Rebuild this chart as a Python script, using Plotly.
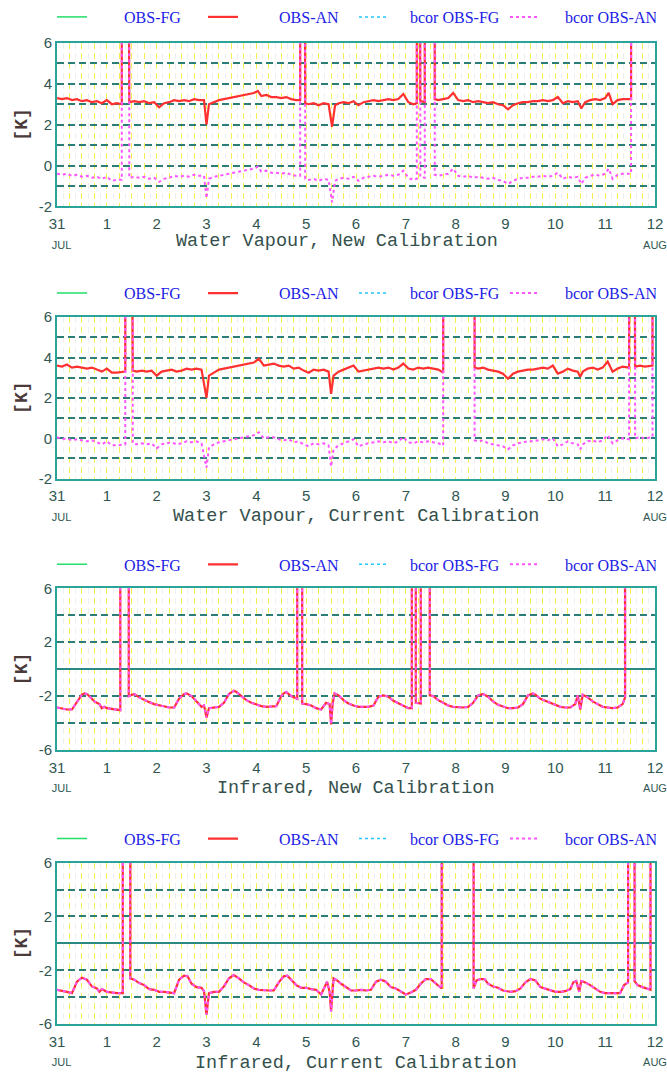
import plotly.graph_objects as go

W, H = 667, 1074
GAP = 99.0  # missing-data flag: the trace jumps off the top of the frame

# ---------------- labels ----------------
series_names = ["OBS-FG", "OBS-AN", "bcor OBS-FG", "bcor OBS-AN"]
panel_titles = ["Water Vapour, New Calibration",
                "Water Vapour, Current Calibration",
                "Infrared, New Calibration",
                "Infrared, Current Calibration"]
day_ticks = list(range(13))
day_labels = ["31<br><span style='font-size:11px'>\u00a0\u00a0\u00a0JUL</span>",
              "1", "2", "3", "4", "5", "6", "7", "8", "9", "10", "11",
              "12<br><span style='font-size:11px'>AUG</span>"]
wv_yticks = [-2, -1, 0, 1, 2, 3, 4, 5, 6]
wv_ylabels = ["-2", "", "0", "", "2", "", "4", "", "6"]
ir_yticks = [-6, -4, -2, 0, 2, 4, 6]
ir_ylabels = ["-6", "", "-2", "", "2", "", "6"]

# ---------------- Water Vapour, New Calibration ----------------
t_wv_new = [0.00, 0.10, 0.20, 0.30, 0.40, 0.50, 0.60, 0.70, 0.80, 0.90,
            1.00, 1.10, 1.20, 1.30, 1.30, 1.45, 1.45, 1.55, 1.65, 1.75,
            1.85, 1.95, 2.05, 2.15, 2.25, 2.35, 2.45, 2.55, 2.65, 2.75,
            2.85, 2.95, 3.00, 3.05, 3.15, 3.25, 3.35, 3.45, 3.55, 3.65,
            3.75, 3.85, 3.95, 4.03, 4.10, 4.20, 4.30, 4.40, 4.50, 4.60,
            4.70, 4.80, 4.88, 4.88, 4.98, 4.98, 5.05, 5.15, 5.25, 5.35,
            5.45, 5.52, 5.58, 5.65, 5.75, 5.85, 5.95, 6.05, 6.15, 6.25,
            6.35, 6.45, 6.55, 6.65, 6.75, 6.85, 6.95, 7.05, 7.15, 7.22,
            7.22, 7.29, 7.29, 7.38, 7.38, 7.58, 7.58, 7.65, 7.75, 7.85,
            7.95, 8.05, 8.15, 8.25, 8.35, 8.45, 8.55, 8.65, 8.75, 8.85,
            8.95, 9.05, 9.15, 9.25, 9.35, 9.45, 9.55, 9.65, 9.75, 9.85,
            9.95, 10.05, 10.15, 10.25, 10.35, 10.45, 10.52, 10.60, 10.70, 10.80,
            10.90, 11.00, 11.07, 11.15, 11.25, 11.35, 11.45, 11.52, 11.52, 12.00]
an_wv_new = [3.30, 3.25, 3.30, 3.20, 3.25, 3.15, 3.20, 3.10, 3.15, 3.05,
             3.20, 3.00, 3.05, 3.00, GAP, GAP, 3.10, 3.15, 3.10, 3.15,
             3.05, 3.10, 2.85, 3.05, 3.10, 3.20, 3.15, 3.20, 3.15, 3.25,
             3.20, 3.20, 2.00, 3.00, 3.10, 3.20, 3.25, 3.30, 3.35, 3.40,
             3.45, 3.50, 3.55, 3.65, 3.40, 3.45, 3.35, 3.35, 3.30, 3.35,
             3.25, 3.20, 3.20, GAP, GAP, 3.05, 3.00, 3.05, 2.95, 3.05,
             3.00, 1.90, 2.95, 3.05, 3.10, 3.05, 3.15, 2.95, 3.10, 3.15,
             3.20, 3.15, 3.20, 3.25, 3.20, 3.25, 3.50, 3.10, 3.00, 3.05,
             GAP, GAP, 3.15, 3.10, GAP, GAP, 3.25, 3.20, 3.25, 3.30,
             3.55, 3.20, 3.15, 3.20, 3.10, 3.15, 3.10, 3.05, 3.10, 3.00,
             2.95, 2.75, 2.95, 3.05, 3.10, 3.10, 3.15, 3.15, 3.20, 3.15,
             3.20, 3.35, 3.05, 3.15, 3.10, 3.15, 2.80, 3.10, 3.20, 3.25,
             3.20, 3.30, 3.55, 3.00, 3.20, 3.25, 3.25, 3.25, GAP, GAP]
bc_wv_new = [-0.40, -0.45, -0.40, -0.50, -0.45, -0.55, -0.50, -0.60, -0.55, -0.65,
             -0.55, -0.75, -0.70, -0.70, GAP, GAP, -0.60, -0.55, -0.60, -0.55,
             -0.65, -0.60, -0.80, -0.65, -0.60, -0.50, -0.55, -0.50, -0.55, -0.45,
             -0.50, -0.50, -1.60, -0.65, -0.55, -0.50, -0.45, -0.40, -0.35, -0.30,
             -0.25, -0.20, -0.15, -0.05, -0.30, -0.25, -0.35, -0.35, -0.40, -0.35,
             -0.45, -0.50, -0.50, GAP, GAP, -0.65, -0.70, -0.65, -0.75, -0.65,
             -0.70, -1.80, -0.75, -0.65, -0.60, -0.65, -0.55, -0.75, -0.60, -0.55,
             -0.50, -0.55, -0.50, -0.45, -0.50, -0.45, -0.25, -0.60, -0.70, -0.65,
             GAP, GAP, -0.55, -0.60, GAP, GAP, -0.45, -0.50, -0.45, -0.40,
             -0.15, -0.50, -0.55, -0.50, -0.60, -0.55, -0.60, -0.65, -0.60, -0.70,
             -0.75, -0.90, -0.75, -0.65, -0.60, -0.60, -0.55, -0.55, -0.50, -0.55,
             -0.50, -0.35, -0.65, -0.55, -0.60, -0.55, -0.90, -0.60, -0.50, -0.45,
             -0.50, -0.40, -0.15, -0.65, -0.45, -0.40, -0.40, -0.40, GAP, GAP]

# ---------------- Water Vapour, Current Calibration ----------------
t_wv_cur = [0.00, 0.10, 0.20, 0.30, 0.40, 0.50, 0.60, 0.70, 0.80, 0.90,
            1.00, 1.10, 1.20, 1.37, 1.37, 1.52, 1.52, 1.60, 1.70, 1.80,
            1.90, 2.00, 2.10, 2.20, 2.30, 2.40, 2.50, 2.60, 2.70, 2.80,
            2.90, 3.00, 3.05, 3.15, 3.25, 3.35, 3.45, 3.55, 3.65, 3.75,
            3.85, 3.95, 4.05, 4.15, 4.25, 4.35, 4.45, 4.55, 4.65, 4.75,
            4.85, 4.95, 5.05, 5.15, 5.25, 5.35, 5.45, 5.50, 5.55, 5.65,
            5.75, 5.85, 5.95, 6.05, 6.15, 6.25, 6.35, 6.45, 6.55, 6.65,
            6.75, 6.85, 6.95, 7.05, 7.15, 7.25, 7.35, 7.45, 7.55, 7.65,
            7.75, 7.75, 8.38, 8.38, 8.45, 8.55, 8.65, 8.75, 8.85, 8.95,
            9.05, 9.15, 9.25, 9.35, 9.45, 9.55, 9.65, 9.75, 9.85, 9.95,
            10.05, 10.15, 10.25, 10.35, 10.45, 10.50, 10.55, 10.65, 10.75, 10.85,
            10.95, 11.05, 11.15, 11.25, 11.35, 11.48, 11.48, 11.60, 11.60, 11.70,
            11.80, 11.95, 11.95, 12.00]
an_wv_cur = [3.60, 3.55, 3.65, 3.50, 3.55, 3.50, 3.45, 3.50, 3.40, 3.30,
             3.45, 3.25, 3.25, 3.30, GAP, GAP, 3.35, 3.30, 3.35, 3.30,
             3.35, 3.10, 3.30, 3.35, 3.40, 3.30, 3.35, 3.45, 3.40, 3.45,
             3.40, 2.00, 3.10, 3.25, 3.40, 3.45, 3.50, 3.55, 3.60, 3.65,
             3.70, 3.75, 3.95, 3.60, 3.65, 3.70, 3.60, 3.55, 3.60, 3.45,
             3.50, 3.35, 3.25, 3.40, 3.35, 3.40, 3.30, 2.20, 3.10, 3.30,
             3.40, 3.50, 3.60, 3.30, 3.35, 3.40, 3.45, 3.50, 3.45, 3.50,
             3.40, 3.50, 3.70, 3.45, 3.40, 3.50, 3.45, 3.50, 3.45, 3.40,
             3.25, GAP, GAP, 3.50, 3.45, 3.50, 3.40, 3.35, 3.30, 3.20,
             2.95, 3.20, 3.30, 3.35, 3.40, 3.40, 3.45, 3.50, 3.45, 3.60,
             3.20, 3.30, 3.45, 3.35, 3.30, 3.05, 3.30, 3.45, 3.50, 3.40,
             3.50, 3.80, 3.30, 3.45, 3.55, 3.50, GAP, GAP, 3.55, 3.60,
             3.55, 3.60, GAP, GAP]
bc_wv_cur = [0.05, -0.05, 0.00, -0.10, -0.05, -0.10, -0.15, -0.10, -0.20, -0.30,
             -0.15, -0.35, -0.35, -0.30, GAP, GAP, -0.25, -0.30, -0.25, -0.30,
             -0.25, -0.50, -0.30, -0.25, -0.20, -0.30, -0.25, -0.15, -0.20, -0.15,
             -0.25, -1.45, -0.45, -0.30, -0.20, -0.15, -0.10, -0.05, 0.00, 0.05,
             0.10, 0.15, 0.30, 0.00, 0.05, 0.05, -0.05, -0.10, -0.05, -0.20,
             -0.15, -0.30, -0.40, -0.25, -0.30, -0.25, -0.35, -1.40, -0.55, -0.35,
             -0.25, -0.15, -0.05, -0.40, -0.30, -0.25, -0.20, -0.15, -0.20, -0.15,
             -0.25, -0.15, 0.05, -0.20, -0.25, -0.15, -0.20, -0.15, -0.20, -0.25,
             -0.35, GAP, GAP, -0.10, -0.15, -0.10, -0.25, -0.30, -0.35, -0.40,
             -0.55, -0.35, -0.25, -0.20, -0.15, -0.15, -0.10, -0.05, -0.10, 0.00,
             -0.40, -0.30, -0.15, -0.25, -0.30, -0.55, -0.30, -0.15, -0.10, -0.20,
             -0.10, 0.15, -0.25, -0.10, 0.00, -0.05, GAP, GAP, 0.00, 0.05,
             0.00, 0.05, GAP, GAP]

# ---------------- Infrared, New Calibration ----------------
t_ir_new = [0.00, 0.10, 0.20, 0.30, 0.40, 0.50, 0.55, 0.60, 0.70, 0.75,
            0.80, 0.85, 0.90, 0.95, 1.00, 1.10, 1.20, 1.27, 1.27, 1.44,
            1.44, 1.50, 1.55, 1.65, 1.75, 1.85, 1.95, 2.05, 2.15, 2.25,
            2.35, 2.45, 2.55, 2.60, 2.70, 2.80, 2.90, 2.95, 3.00, 3.05,
            3.15, 3.25, 3.35, 3.45, 3.55, 3.60, 3.70, 3.80, 3.90, 4.00,
            4.10, 4.20, 4.30, 4.40, 4.50, 4.55, 4.60, 4.70, 4.82, 4.82,
            4.92, 4.92, 5.00, 5.10, 5.20, 5.30, 5.40, 5.47, 5.50, 5.53,
            5.57, 5.65, 5.75, 5.85, 5.95, 6.05, 6.15, 6.25, 6.35, 6.45,
            6.55, 6.65, 6.75, 6.85, 6.95, 7.05, 7.12, 7.12, 7.20, 7.20,
            7.30, 7.30, 7.48, 7.48, 7.55, 7.65, 7.75, 7.85, 7.95, 8.05,
            8.15, 8.25, 8.35, 8.45, 8.55, 8.65, 8.75, 8.85, 8.95, 9.05,
            9.15, 9.25, 9.35, 9.45, 9.55, 9.60, 9.70, 9.80, 9.90, 10.00,
            10.10, 10.20, 10.30, 10.40, 10.45, 10.50, 10.55, 10.65, 10.75, 10.85,
            10.95, 11.05, 11.15, 11.25, 11.35, 11.40, 11.40, 12.00]
an_ir_new = [-2.85, -2.95, -3.00, -3.00, -2.40, -1.90, -1.80, -1.85, -2.20, -2.40,
             -2.50, -2.60, -2.90, -2.80, -2.90, -2.95, -3.00, -3.05, GAP, GAP,
             -2.00, -1.90, -1.85, -2.10, -2.30, -2.45, -2.60, -2.70, -2.80, -2.85,
             -2.85, -2.20, -1.85, -1.80, -2.00, -2.40, -2.80, -2.70, -3.60, -2.90,
             -2.85, -2.80, -2.50, -1.85, -1.60, -1.70, -2.00, -2.30, -2.50, -2.65,
             -2.75, -2.80, -2.80, -2.75, -2.00, -1.80, -1.70, -2.00, -2.20, GAP,
             GAP, -2.55, -2.60, -2.70, -2.90, -3.00, -2.50, -2.60, -4.10, -2.60,
             -1.80, -1.95, -2.30, -2.55, -2.70, -2.80, -2.80, -2.80, -2.70, -2.05,
             -1.95, -2.05, -2.35, -2.55, -2.75, -2.90, -2.90, GAP, GAP, -2.50,
             -2.55, GAP, GAP, -1.95, -2.00, -2.30, -2.50, -2.70, -2.80, -2.85,
             -2.85, -2.80, -2.50, -1.95, -1.85, -2.05, -2.40, -2.65, -2.80, -2.90,
             -2.90, -2.85, -2.60, -1.95, -1.80, -1.90, -2.20, -2.35, -2.55, -2.65,
             -2.80, -2.85, -2.85, -2.60, -1.95, -3.00, -1.90, -2.10, -2.40, -2.60,
             -2.80, -2.85, -2.90, -2.85, -2.60, -2.10, GAP, GAP]
# in the infrared the bias-corrected curve lies on top of OBS-AN
bc_ir_new = list(an_ir_new)

# ---------------- Infrared, Current Calibration ----------------
t_ir_cur = [0.00, 0.10, 0.20, 0.30, 0.40, 0.50, 0.60, 0.70, 0.80, 0.85,
            0.90, 1.00, 1.10, 1.20, 1.32, 1.32, 1.47, 1.47, 1.55, 1.65,
            1.75, 1.85, 1.95, 2.05, 2.15, 2.25, 2.35, 2.45, 2.55, 2.62,
            2.70, 2.80, 2.90, 2.95, 3.00, 3.05, 3.15, 3.25, 3.35, 3.45,
            3.55, 3.65, 3.75, 3.85, 3.95, 4.05, 4.15, 4.25, 4.35, 4.45,
            4.55, 4.62, 4.70, 4.80, 4.90, 5.00, 5.10, 5.20, 5.30, 5.35,
            5.42, 5.47, 5.50, 5.55, 5.62, 5.70, 5.80, 5.90, 6.00, 6.10,
            6.20, 6.30, 6.40, 6.50, 6.60, 6.70, 6.80, 6.90, 7.00, 7.10,
            7.20, 7.30, 7.40, 7.50, 7.60, 7.72, 7.72, 8.36, 8.36, 8.42,
            8.50, 8.58, 8.65, 8.75, 8.85, 8.95, 9.10, 9.20, 9.30, 9.40,
            9.50, 9.60, 9.70, 9.80, 9.90, 10.00, 10.10, 10.20, 10.30, 10.36,
            10.42, 10.48, 10.52, 10.60, 10.70, 10.80, 10.90, 11.00, 11.10, 11.20,
            11.30, 11.38, 11.46, 11.46, 11.59, 11.59, 11.65, 11.75, 11.85, 11.91,
            11.91, 12.00]
an_ir_cur = [-3.45, -3.50, -3.60, -3.70, -2.85, -2.55, -2.70, -3.20, -3.35, -3.60,
             -3.40, -3.60, -3.65, -3.70, -3.70, GAP, GAP, -2.60, -2.70, -2.95,
             -3.10, -3.40, -3.45, -3.60, -3.60, -3.65, -3.70, -2.70, -2.40, -2.45,
             -3.00, -3.25, -3.30, -3.55, -5.30, -3.70, -3.60, -3.60, -3.20, -2.60,
             -2.35, -2.60, -2.90, -3.10, -3.35, -3.45, -3.50, -3.50, -3.50, -2.90,
             -2.45, -2.40, -2.70, -3.10, -3.30, -3.30, -3.40, -3.45, -3.80, -3.40,
             -2.85, -3.60, -5.05, -2.60, -2.75, -3.00, -3.25, -3.50, -3.50, -3.45,
             -3.50, -3.45, -2.85, -2.70, -2.85, -3.25, -3.35, -3.60, -3.80, -3.65,
             -3.45, -3.00, -2.65, -2.65, -3.00, -3.35, GAP, GAP, -3.35, -2.75,
             -2.65, -2.65, -3.00, -3.20, -3.30, -3.50, -3.60, -3.55, -3.35, -2.90,
             -2.65, -2.75, -3.25, -3.35, -3.50, -3.60, -3.60, -3.55, -3.40, -2.90,
             -2.80, -3.60, -2.80, -2.90, -3.10, -3.35, -3.60, -3.70, -3.70, -3.70,
             -3.70, -3.10, -2.90, GAP, GAP, -2.80, -3.10, -3.25, -3.35, -3.45,
             GAP, GAP]
bc_ir_cur = list(an_ir_cur)

# ---------------- styling ----------------
C_FG = "#22e06a"
C_AN = "#ff3030"
C_BFG = "#22c8ff"
C_BAN = "#ff55ff"
FRAME = "#2aa39b"
HGRID = "#2b7e78"
VGRID = "#f5ee55"
TXT = "#2f5752"

tops = [40, 315, 587, 862]
bottoms = [204, 477, 749, 1024]
legend_yc = [14, 291, 563, 838]
title_yc = [239, 515, 788, 1063]
title_xc = [337, 356, 356, 356]
X0, X1 = 57, 655

panels = [(t_wv_new, an_wv_new, bc_wv_new, "wv"),
          (t_wv_cur, an_wv_cur, bc_wv_cur, "wv"),
          (t_ir_new, an_ir_new, bc_ir_new, "ir"),
          (t_ir_cur, an_ir_cur, bc_ir_cur, "ir")]

quarter_vals = [k * 0.25 for k in range(49)]
quarter_text = [day_labels[int(v)] if v == int(v) else "" for v in quarter_vals]
eighth_vals = [k * 0.25 + 0.125 for k in range(48)]

nb = "\u00a0"
legend_names = [nb * 8 + series_names[0], nb * 9 + series_names[1],
                nb * 4 + series_names[2], nb * 5 + series_names[3]]

fig = go.Figure()
layout = dict(width=W, height=H, margin=dict(l=0, r=0, t=0, b=0), autosize=False,
              paper_bgcolor="white", plot_bgcolor="white", showlegend=True,
              font=dict(family="Liberation Sans", color=TXT))
annotations = []

for i, (t, an, bc, kind) in enumerate(panels):
    n = i + 1
    xa = "x" if n == 1 else f"x{n}"
    ya = "y" if n == 1 else f"y{n}"
    lg = "legend" if n == 1 else f"legend{n}"
    common = dict(xaxis=xa, yaxis=ya, legend=lg, hoverinfo="skip")
    fig.add_trace(go.Scatter(x=[None], y=[None], mode="lines", name=legend_names[0],
                             line=dict(color=C_FG, width=1.5), **common))
    fig.add_trace(go.Scatter(x=t, y=an, mode="lines", name=legend_names[1],
                             line=dict(color=C_AN, width=2.2), **common))
    fig.add_trace(go.Scatter(x=[None], y=[None], mode="lines", name=legend_names[2],
                             line=dict(color=C_BFG, width=1.5, dash="dot"), **common))
    fig.add_trace(go.Scatter(x=t, y=bc, mode="lines", name=legend_names[3],
                             line=dict(color=C_BAN, width=2, dash="dot"), **common))

    ydom = [1 - bottoms[i] / H, 1 - tops[i] / H]
    xkey = "xaxis" if n == 1 else f"xaxis{n}"
    ykey = "yaxis" if n == 1 else f"yaxis{n}"
    layout[xkey] = dict(domain=[X0 / W, X1 / W], range=[0, 12], anchor=ya,
                        tickmode="array", tickvals=quarter_vals, ticktext=quarter_text,
                        ticks="", ticklabelstandoff=3,
                        showgrid=True, gridcolor=VGRID, gridwidth=1.4,
                        griddash="6px,4px", zeroline=False,
                        minor=dict(tickmode="array", tickvals=eighth_vals, showgrid=True,
                                   gridcolor="#efefef", gridwidth=1, ticks=""),
                        showline=True, linecolor=FRAME, linewidth=1.6, mirror=True,
                        tickfont=dict(family="Liberation Sans", size=15, color=TXT),
                        automargin=False, fixedrange=True)
    if kind == "wv":
        yv, yl, yr = wv_yticks, wv_ylabels, [-2, 6]
        zl = dict(zeroline=False)
    else:
        yv, yl, yr = ir_yticks, ir_ylabels, [-6, 6]
        zl = dict(zeroline=True, zerolinecolor="#2a8a83", zerolinewidth=1.6)
    layout[ykey] = dict(domain=ydom, range=yr, anchor=xa, tickmode="array",
                        tickvals=yv, ticktext=yl, ticks="", showgrid=True,
                        gridcolor=HGRID, gridwidth=1.6, griddash="7px,4px",
                        showline=True, linecolor=FRAME, linewidth=1.6, mirror=True,
                        tickfont=dict(family="Liberation Sans", size=15, color=TXT),
                        automargin=False, fixedrange=True, **zl)
    layout[lg] = dict(x=52 / W, xanchor="left", y=1 - legend_yc[i] / H, yanchor="middle",
                      orientation="h", bgcolor="rgba(0,0,0,0)", borderwidth=0,
                      entrywidth=106, entrywidthmode="pixels", tracegroupgap=0,
                      font=dict(family="Liberation Serif", size=16, color="#2020e6"))
    annotations.append(dict(text=panel_titles[i], xref="paper", yref="paper",
                            x=title_xc[i] / W, y=1 - title_yc[i] / H,
                            xanchor="center", yanchor="middle", showarrow=False,
                            font=dict(family="Liberation Mono", size=18.5, color="#34504c")))
    annotations.append(dict(text="<b>[K]</b>", xref="paper", yref="paper", textangle=-90,
                            x=22 / W, y=1 - (tops[i] + bottoms[i]) / 2 / H,
                            xanchor="center", yanchor="middle", showarrow=False,
                            font=dict(family="Liberation Mono", size=18, color="#4a3a3a")))

layout["annotations"] = annotations
fig.update_layout(**layout)
fig.write_html("out.html")
